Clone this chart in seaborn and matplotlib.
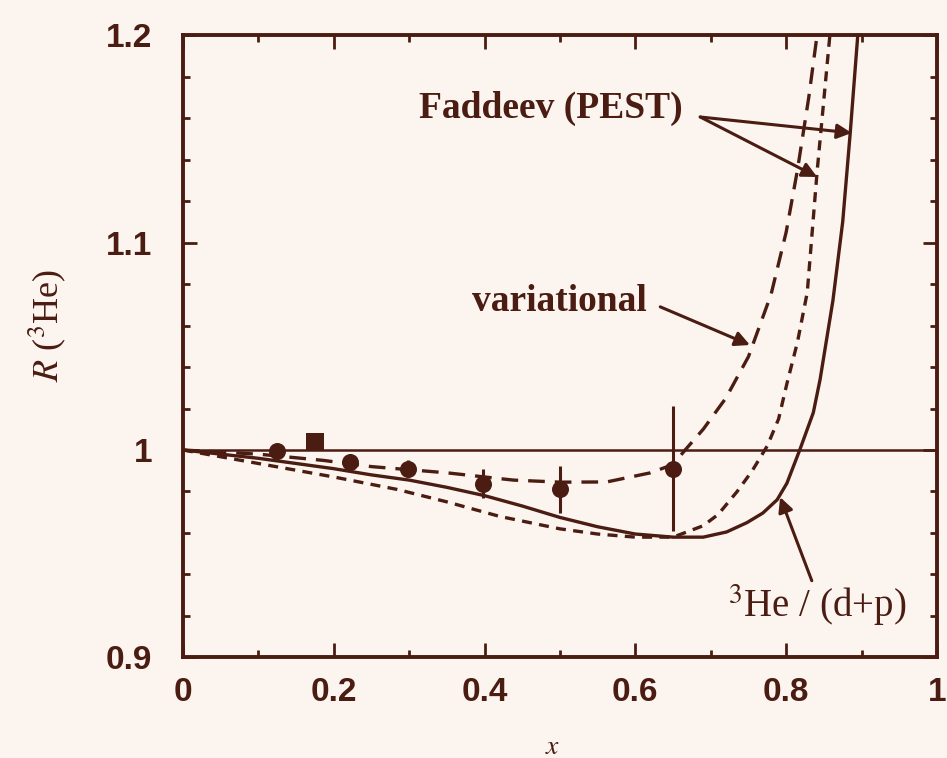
import numpy as np
import pandas as pd
import matplotlib
matplotlib.use("Agg")
import matplotlib.pyplot as plt
import seaborn as sns
from matplotlib.ticker import MultipleLocator, FixedLocator, FixedFormatter

# ---------------- data ----------------
# solid curve: 3He / (d+p)
solid_x = [0.0, 0.05, 0.1, 0.15, 0.2, 0.25, 0.3, 0.35, 0.4, 0.45, 0.5, 0.55,
           0.6, 0.65, 0.69, 0.721, 0.748, 0.769, 0.788, 0.801, 0.818, 0.836,
           0.845, 0.862, 0.875, 0.885, 0.895]
solid_y = [1.0, 0.998, 0.996, 0.9935, 0.991, 0.988, 0.9855, 0.982, 0.978,
           0.973, 0.9675, 0.963, 0.9595, 0.958, 0.958, 0.9605, 0.965, 0.9696,
           0.976, 0.984, 1.0, 1.018, 1.034, 1.072, 1.11, 1.153, 1.2]

# short-dashed curve: Faddeev (PEST)
fad_x = [0.0, 0.1, 0.2, 0.284, 0.35, 0.42, 0.5, 0.55, 0.6, 0.65, 0.69, 0.71,
         0.735, 0.755, 0.775, 0.79, 0.801, 0.815, 0.828, 0.841, 0.858]
fad_y = [1.0, 0.9935, 0.987, 0.981, 0.975, 0.968, 0.962, 0.9595, 0.958, 0.958,
         0.9635, 0.969, 0.98, 0.99, 1.002, 1.015, 1.032, 1.052, 1.076, 1.134,
         1.2]

# long-dashed curve: variational
var_x = [0.0, 0.1, 0.186, 0.25, 0.35, 0.438, 0.5, 0.562, 0.62, 0.65, 0.666,
         0.69, 0.72, 0.75, 0.78, 0.80, 0.815, 0.83, 0.841]
var_y = [1.0, 0.998, 0.995, 0.992, 0.989, 0.9855, 0.9845, 0.9846, 0.989,
         0.993, 1.0, 1.01, 1.025, 1.045, 1.075, 1.105, 1.135, 1.17, 1.2]

# data points (filled circles) with errors
pts_x = [0.125, 0.221, 0.298, 0.398, 0.5, 0.65]
pts_y = [0.9995, 0.994, 0.991, 0.9837, 0.981, 0.991]
pts_err = [0.003, 0.004, 0.004, 0.007, 0.0115, 0.030]

# square point
sq_x = [0.175]
sq_y = [1.004]
sq_err = [0.003]

x_ticks = [0.0, 0.2, 0.4, 0.6, 0.8, 1.0]
x_ticklabels = ["0", "0.2", "0.4", "0.6", "0.8", "1"]
y_ticks = [0.9, 1.0, 1.1, 1.2]
y_ticklabels = ["0.9", "1", "1.1", "1.2"]

# ---------------- style ----------------
sns.set_theme(style="ticks")
plt.rcParams['font.family'] = ['Liberation Sans', 'DejaVu Sans']
plt.rcParams['mathtext.fontset'] = 'stix'

BG = "#FCF4EF"
INK = "#4A1C12"

fig = plt.figure(figsize=(9.47, 7.58), dpi=100, facecolor=BG)
ax = fig.add_axes([0.1932, 0.1326, 0.7962, 0.8212], facecolor=BG)

df = pd.concat([
    pd.DataFrame({"x": solid_x, "R": solid_y, "model": "3He/(d+p)"}),
    pd.DataFrame({"x": fad_x, "R": fad_y, "model": "Faddeev"}),
    pd.DataFrame({"x": var_x, "R": var_y, "model": "variational"}),
], ignore_index=True)

ax.axhline(1.0, color=INK, lw=1.8, zorder=1)

sns.lineplot(data=df, x="x", y="R", style="model",
             dashes={"3He/(d+p)": "", "Faddeev": (3.0, 2.2), "variational": (5.0, 3.0)},
             color=INK, lw=2.4, estimator=None, sort=False, legend=False, ax=ax,
             zorder=2)

ax.errorbar(pts_x, pts_y, yerr=pts_err, fmt="none", ecolor=INK, elinewidth=2.2,
            capsize=0, zorder=3)
ax.errorbar(sq_x, sq_y, yerr=sq_err, fmt="none", ecolor=INK, elinewidth=2.2,
            capsize=0, zorder=3)
sns.scatterplot(x=pts_x, y=pts_y, marker="o", s=150, color=INK, edgecolor=INK,
                linewidth=0, ax=ax, zorder=4, legend=False)
sns.scatterplot(x=sq_x, y=sq_y, marker="s", s=150, color=INK, edgecolor=INK,
                linewidth=0, ax=ax, zorder=4, legend=False)

ax.set_xlim(0, 1)
ax.set_ylim(0.9, 1.2)

ax.xaxis.set_major_locator(FixedLocator(x_ticks))
ax.xaxis.set_major_formatter(FixedFormatter(x_ticklabels))
ax.xaxis.set_minor_locator(MultipleLocator(0.1))
ax.yaxis.set_major_locator(FixedLocator(y_ticks))
ax.yaxis.set_major_formatter(FixedFormatter(y_ticklabels))
ax.yaxis.set_minor_locator(MultipleLocator(0.02))

ax.tick_params(which="both", direction="in", top=True, right=True,
               color=INK, width=2.0, labelcolor=INK)
ax.tick_params(which="major", length=10)
ax.tick_params(which="minor", length=5)
ax.tick_params(axis="x", which="major", pad=14)
ax.tick_params(axis="y", which="major", pad=22)
for lab in ax.get_xticklabels() + ax.get_yticklabels():
    lab.set_fontsize(24)
    lab.set_fontweight("bold")
    lab.set_family(["Liberation Sans", "DejaVu Sans"])

for sp in ax.spines.values():
    sp.set_color(INK)
    sp.set_linewidth(2.8)

ax.set_xlabel(r"$x$", fontsize=20, color=INK, va="center")
ax.xaxis.set_label_coords(0.49, -0.143)
ax.set_ylabel(r"$R$ ($^3$He)", fontsize=26, color=INK,
              family=["Liberation Serif", "DejaVu Serif"])
ax.yaxis.set_label_coords(-0.152, 0.534)

serif = ["Liberation Serif", "DejaVu Serif"]
arrow = dict(arrowstyle="-|>", color=INK, lw=2.2, mutation_scale=22,
             shrinkA=0, shrinkB=0)

ax.text(0.488, 1.1648, "Faddeev (PEST)", ha="center", va="center",
        fontsize=27, fontweight="bold", family=serif, color=INK)
ax.annotate("", xy=(0.887, 1.1528), xytext=(0.686, 1.1605), arrowprops=arrow)
ax.annotate("", xy=(0.841, 1.1316), xytext=(0.686, 1.1605), arrowprops=arrow)

ax.text(0.499, 1.0718, "variational", ha="center", va="center",
        fontsize=27, fontweight="bold", family=serif, color=INK)
ax.annotate("", xy=(0.752, 1.0506), xytext=(0.633, 1.069), arrowprops=arrow)

ax.text(0.841, 0.925, r"$^3$He / (d+p)", ha="center", va="center",
        fontsize=28, family=serif, color=INK)
ax.annotate("", xy=(0.792, 0.9773), xytext=(0.834, 0.937), arrowprops=arrow)

fig.savefig("out.png", dpi=100, facecolor=BG)
